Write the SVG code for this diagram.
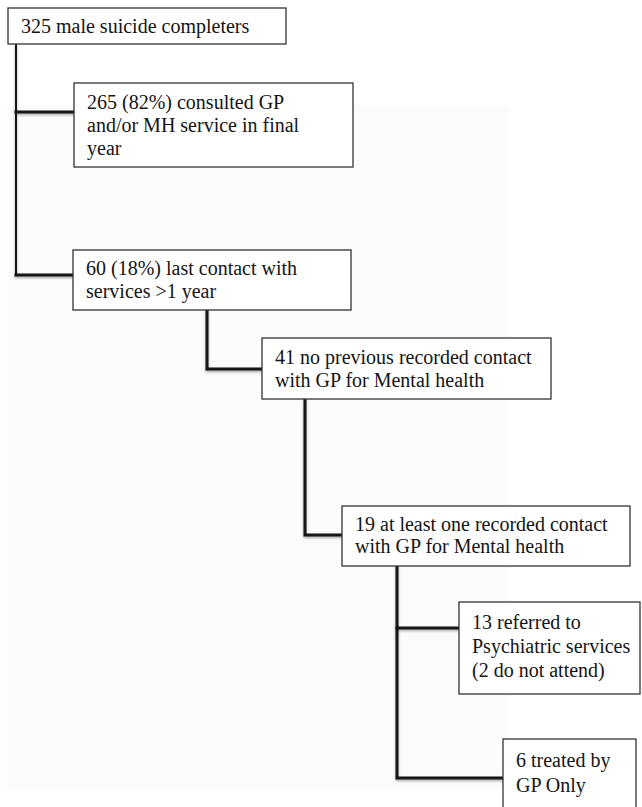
<svg xmlns="http://www.w3.org/2000/svg" width="642" height="807" viewBox="0 0 642 807">
  <style>
    .box { fill: #ffffff; stroke: #333333; stroke-width: 1.3; }
    .lbl { font-family: 'Liberation Serif', 'DejaVu Serif', serif; font-size: 20px; fill: #141414; }
    .conn { fill: none; stroke: #141414; stroke-linejoin: miter; stroke-linecap: square; }
    .thin { stroke-width: 2; }
    .thick { stroke-width: 3; }
  </style>
  <defs>
    <filter id="shadow" x="-10%" y="-10%" width="120%" height="120%">
      <feDropShadow dx="0" dy="1.5" stdDeviation="1" flood-color="#000000" flood-opacity="0.35"/>
    </filter>
  </defs>

  <rect x="0" y="0" width="642" height="807" fill="#ffffff"/>
  <rect x="7" y="106" width="502" height="683" fill="#fbfbfb"/>

  <g id="connectors" filter="url(#shadow)">
    <path class="conn thin" d="M16 44 V275"/>
    <path class="conn thick" d="M16 112 H74"/>
    <path class="conn thick" d="M16 275 H73"/>
    <path class="conn thick" d="M207 310 V369 H262"/>
    <path class="conn thick" d="M305 399 V535 H342"/>
    <path class="conn thick" d="M397 566 V778 H503"/>
    <path class="conn thick" d="M397 628 H459"/>
  </g>

  <g id="node-325">
    <rect class="box" x="8" y="8" width="278" height="36"/>
    <text class="lbl" x="21" y="33">325 male suicide completers</text>
  </g>

  <g id="node-265">
    <rect class="box" x="74" y="83" width="279" height="84"/>
    <text class="lbl" x="87" y="109">265 (82%) consulted GP</text>
    <text class="lbl" x="87" y="132">and/or MH service in final</text>
    <text class="lbl" x="87" y="155">year</text>
  </g>

  <g id="node-60">
    <rect class="box" x="73" y="250" width="278" height="60"/>
    <text class="lbl" x="86" y="275">60 (18%) last contact with</text>
    <text class="lbl" x="86" y="298">services &gt;1 year</text>
  </g>

  <g id="node-41">
    <rect class="box" x="262" y="338" width="289" height="61"/>
    <text class="lbl" x="275" y="364">41 no previous recorded contact</text>
    <text class="lbl" x="275" y="387">with GP for Mental health</text>
  </g>

  <g id="node-19">
    <rect class="box" x="342" y="506" width="288" height="60"/>
    <text class="lbl" x="355" y="531">19 at least one recorded contact</text>
    <text class="lbl" x="355" y="553">with GP for Mental health</text>
  </g>

  <g id="node-13">
    <rect class="box" x="459" y="602" width="181" height="92"/>
    <text class="lbl" x="472" y="629">13 referred to</text>
    <text class="lbl" x="472" y="653">Psychiatric services</text>
    <text class="lbl" x="472" y="677">(2 do not attend)</text>
  </g>

  <g id="node-6">
    <rect class="box" x="503" y="739" width="133" height="80"/>
    <text class="lbl" x="516" y="767">6 treated by</text>
    <text class="lbl" x="516" y="792">GP Only</text>
  </g>
</svg>
